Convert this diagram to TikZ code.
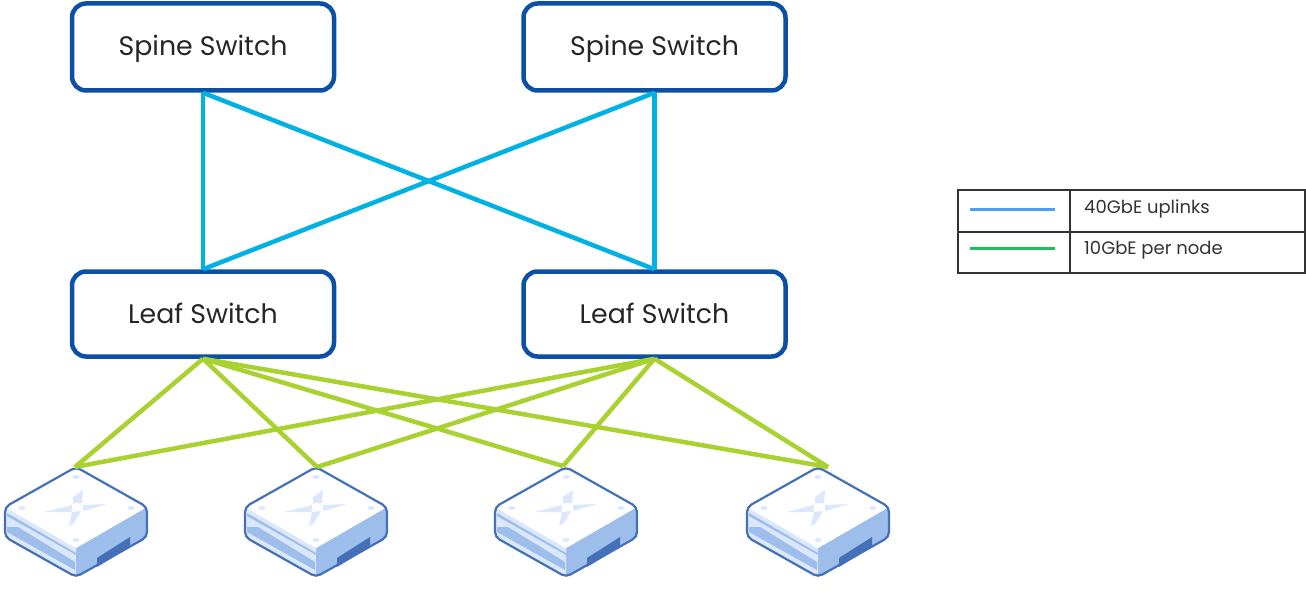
\documentclass[tikz,border=0pt]{standalone}
\usepackage{fontspec}
\setmainfont{Poppins}
\definecolor{boxblue}{HTML}{0B50A5}
\definecolor{uplink}{HTML}{00B2E3}
\definecolor{nodelink}{HTML}{A9D130}
\definecolor{hostline}{HTML}{4470B8}
\definecolor{hostmid}{HTML}{9DBDEB}
\definecolor{hostpale}{HTML}{DBE8FC}
\definecolor{keyblue}{HTML}{4A9DF5}
\definecolor{keygreen}{HTML}{1CBF5F}
\definecolor{rulegrey}{HTML}{333333}
\tikzset{
  switchbox/.style={draw=boxblue, line width=4.5pt, rounded corners=14pt, fill=white, minimum width=262pt, inner sep=0pt, font=\fontsize{26.8}{30}\selectfont, text=black!85},
  upline/.style={uplink, line width=4.5pt},
  downline/.style={nodelink, line width=4.5pt},
  keytext/.style={anchor=west, inner sep=0pt, font=\fontsize{18}{20}\selectfont, text=black!80},
  keyrule/.style={rulegrey, line width=1.5pt},
}
\begin{document}
\begin{tikzpicture}[x=1pt, y=-1pt]
    \useasboundingbox (0,0) rectangle (1306,596);

    % hosts
    \foreach \hx in {0,240,490,742} {
      \begin{scope}[shift={(\hx,0)}]
        \fill [hostmid] (76,548) -- (147,507) -- (147,537) -- (76,577) -- cycle;
        \fill [hostpale] (5,507) -- (76,548) -- (76,577) -- (5,537) -- cycle;
        \fill [hostmid] (7,513) -- (76,553) -- (76,555) -- (7,516) -- cycle;
        \fill [hostmid] (7,527) -- (18,527) -- (75,562) -- (75,570) -- (7,532) -- cycle;
        \fill [white] (5,507) -- (76,467) -- (147,507) -- (76,548) -- cycle;
        \fill [hostline] (97,558) -- (130,537) -- (130,547) -- (97,567) -- cycle;
        \fill [hostpale] (73,497) -- (83,490) -- (82,503) -- (73,503) -- cycle;
        \fill [hostpale] (44,512) -- (72,505) -- (71.5,512) -- cycle;
        \fill [hostpale] (69,526) -- (72,512) -- (81,511) -- (74,523) -- cycle;
        \fill [hostpale] (107,504) -- (83,505) -- (83,511) -- cycle;
        \fill [hostpale] (76,477) ellipse (3.5 and 2);
        \fill [hostpale] (22,508) ellipse (3.5 and 2);
        \fill [hostpale] (131,508) ellipse (3.5 and 2);
        \fill [hostpale] (76,540) ellipse (3.5 and 2);
        \draw [hostline, line width=2.2pt, rounded corners=5pt, line join=round] (76,467) -- (147,507) -- (147,537) -- (76,577) -- (5,537) -- (5,507) -- cycle;
      \end{scope}
    }

    \node [switchbox, minimum height=87pt, text depth=4pt] (spineA) at (203,47) {Spine Switch};
    \node [switchbox, minimum height=87pt, text depth=4pt] (spineB) at (654.5,47) {Spine Switch};
    \node [switchbox, minimum height=85pt, text depth=2pt] (leafA) at (203,314) {Leaf Switch};
    \node [switchbox, minimum height=85pt, text depth=2pt] (leafB) at (654.5,314) {Leaf Switch};

    \coordinate (hostA) at (75,467);
    \coordinate (hostB) at (317,467);
    \coordinate (hostC) at (563,466);
    \coordinate (hostD) at (828,467);

    \foreach \spine in {spineA,spineB}
      \foreach \leaf in {leafA,leafB}
        \draw [upline] (\spine.south) -- (\leaf.north);

    \foreach \leaf in {leafA,leafB}
      \foreach \host in {hostA,hostB,hostC,hostD}
        \draw [downline] (\leaf.south) -- (\host);

    % legend
    \coordinate (keyTL) at (958,190);
    \coordinate (keyTM) at (1070,190);
    \coordinate (keyTR) at (1305,190);
    \coordinate (keyML) at (958,232);
    \coordinate (keyMR) at (1305,232);
    \coordinate (keyBL) at (958,273);
    \coordinate (keyBM) at (1070,273);
    \coordinate (keyBR) at (1305,273);
    \draw [keyrule] (keyTL) -- (keyTR) -- (keyBR) -- (keyBL) -- cycle;
    \draw [keyrule] (keyML) -- (keyMR);
    \draw [keyrule] (keyTM) -- (keyBM);

    \coordinate (blueA) at (970,210);
    \coordinate (blueB) at (1055,210);
    \coordinate (greenA) at (970,248);
    \coordinate (greenB) at (1055,248);
    \draw [keyblue, line width=3pt] (blueA) -- (blueB);
    \draw [keygreen, line width=3pt] (greenA) -- (greenB);
    \node [keytext] (keyUp) at (1084,209) {40GbE uplinks};
    \node [keytext] (keyDown) at (1084,250) {10GbE per node};
\end{tikzpicture}
\end{document}
